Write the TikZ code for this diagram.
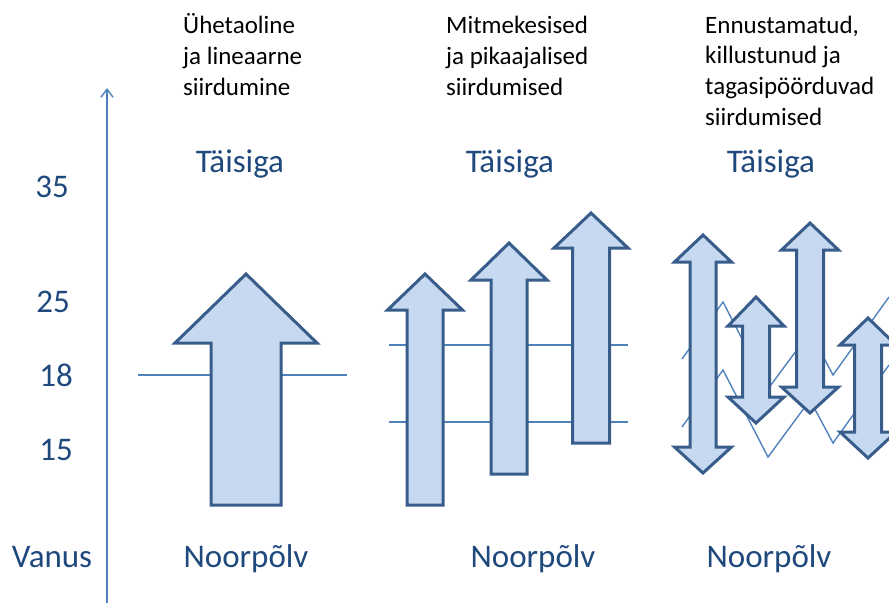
\documentclass[tikz,border=0pt]{standalone}
\usepackage{fontspec}
\setmainfont{Carlito}
\usetikzlibrary{arrows.meta}
\definecolor{arrfill}{HTML}{C6D9F1}
\definecolor{arrdraw}{HTML}{385D8A}
\definecolor{lineblue}{HTML}{4F81BD}
\definecolor{txtblue}{HTML}{1F497D}
\tikzset{
  bigarrow/.style={fill=arrfill, draw=arrdraw, line width=3pt, line join=miter},
  thinline/.style={draw=lineblue, line width=1.4pt},
  toptext/.style={anchor=base west, inner sep=0pt, font=\fontsize{25}{30}\selectfont, text=black},
  bluetext/.style={anchor=base, inner sep=0pt, font=\fontsize{33}{40}\selectfont, text=txtblue}
}
\newcommand\myuparr[6]{\draw[bigarrow] (#1,#2) -- (#1+#3,#4) -- (#1+#5,#4) -- (#1+#5,#6) -- (#1-#5,#6) -- (#1-#5,#4) -- (#1-#3,#4) -- cycle;}
\newcommand\mydblarr[7]{\draw[bigarrow] (#1,#2) -- (#1+#3,#4) -- (#1+#5,#4) -- (#1+#5,#6) -- (#1+#3,#6) -- (#1,#7) -- (#1-#3,#6) -- (#1-#5,#6) -- (#1-#5,#4) -- (#1-#3,#4) -- cycle;}
\begin{document}
\begin{tikzpicture}[x=1pt,y=-1pt]
\useasboundingbox (0,0) rectangle (889,603);
% axis
\coordinate (axb) at (107,603);
\coordinate (axt) at (107,88);
\draw[thinline, -{Straight Barb[length=8pt,width=12pt,line width=1.4pt]}] (axb) -- (axt);
% axis labels
\node[bluetext] (l35) at (52,197) {35};
\node[bluetext] (l25) at (53,312) {25};
\node[bluetext] (l18) at (56,386) {18};
\node[bluetext] (l15) at (56,460) {15};
\node[bluetext] (vanus) at (52,567) {Vanus};
% column labels
\node[bluetext] (t1) at (240,172) {Täisiga};
\node[bluetext] (t2) at (510,172) {Täisiga};
\node[bluetext] (t3) at (771,172) {Täisiga};
\node[bluetext] (n1) at (246,567) {Noorpõlv};
\node[bluetext] (n2) at (533,567) {Noorpõlv};
\node[bluetext] (n3) at (769,567) {Noorpõlv};
% top texts
\node[toptext] (a1) at (183,33) {Ühetaoline};
\node[toptext] (a2) at (183,64) {ja lineaarne};
\node[toptext] (a3) at (183,95) {siirdumine};
\node[toptext] (b1) at (446,33) {Mitmekesised};
\node[toptext] (b2) at (446,64) {ja pikaajalised};
\node[toptext] (b3) at (446,95) {siirdumised};
\node[toptext] (c1) at (705,33) {Ennustamatud,};
\node[toptext] (c2) at (705,63) {killustunud ja};
\node[toptext] (c3) at (705,94) {tagasipöörduvad};
\node[toptext] (c4) at (705,125) {siirdumised};
% horizontal lines
\draw[thinline] (138,375) -- (347,375);
\draw[thinline] (389,345) -- (628,345);
\draw[thinline] (389,422) -- (628,422);
% zigzags
\draw[thinline, line join=miter] (682,427) -- (723,370) -- (768,457) -- (810,400) -- (833,443) -- (889,365);
\draw[thinline, line join=miter] (682,359) -- (723,302) -- (768,389) -- (810,332) -- (833,375) -- (889,297);
% arrows
\myuparr{246}{274}{71}{343}{35}{505}
\myuparr{425}{274}{37.5}{310}{18}{505}
\myuparr{509}{243}{38}{280}{18}{474}
\myuparr{591}{213}{37}{248}{18.5}{443}
\mydblarr{703}{235}{28.5}{262}{13}{447}{473}
\mydblarr{756}{297}{28}{326}{13.5}{397}{423}
\mydblarr{810}{223}{28.5}{250}{13.5}{387}{413}
\mydblarr{868}{318}{28}{345}{13.5}{432}{458}
\end{tikzpicture}
\end{document}
